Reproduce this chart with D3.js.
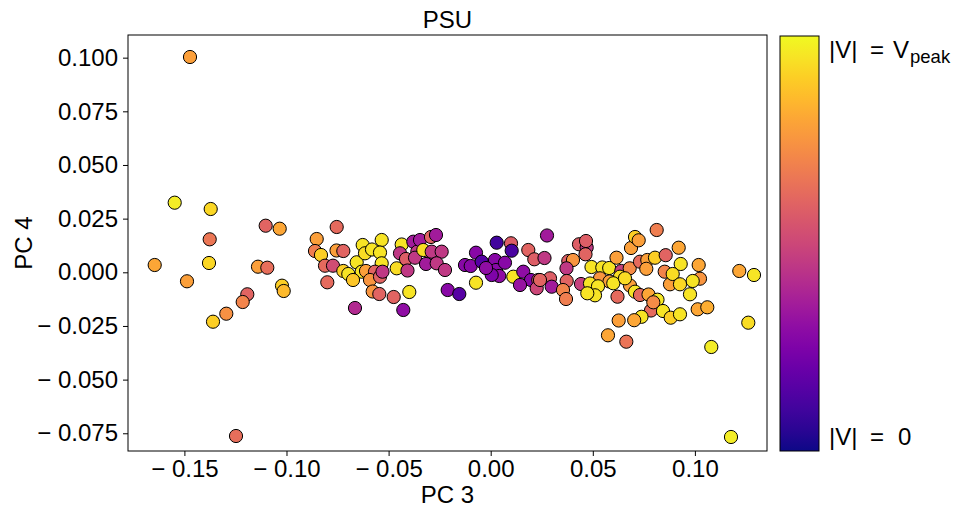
<!DOCTYPE html>
<html>
<head>
<meta charset="utf-8">
<script src="https://cdn.jsdelivr.net/npm/d3@7"></script>
<style>
  body { margin: 0; background: #fff; }
  text { font-family: "Liberation Sans", Arial, sans-serif; fill: #000; }
</style>
</head>
<body>
<script>
// PC 3 scores, PC 4 scores and normalised |V| for each sample
var pc3 = [-0.14726, -0.15475, -0.13712, -0.11019, -0.10333, -0.13761, -0.16454, -0.13795, -0.11396, -0.10940,
  -0.14873, -0.10220, -0.10137, -0.11920, -0.12145, -0.12948, -0.13599, -0.12473, -0.07542, -0.08521,
  -0.08604, -0.08311, -0.08115, -0.07723, -0.08002, -0.07551, -0.07218, -0.07218, -0.06974, -0.06646,
  -0.06562, -0.06268, -0.06156, -0.05813, -0.05338, -0.05421, -0.05338, -0.06317, -0.06107, -0.05666,
  -0.05911, -0.05421, -0.05299, -0.05779, -0.05455, -0.04750, -0.03986, -0.04280, -0.04603, -0.04358,
  -0.04442, -0.03790, -0.03595, -0.04148, -0.04074, -0.03707, -0.03462, -0.02973, -0.03168, -0.02924,
  -0.02679, -0.03301, -0.06743, -0.02889, -0.02400, -0.02644, -0.02238, -0.02106, -0.01538, -0.00720,
  -0.01259, -0.00979, -0.00441, -0.00720, 0.00211, 0.00294, 0.00260, 0.00700, 0.00421, 0.00994,
  0.01028, 0.01107, 0.01596, 0.01841, 0.02135, 0.01974, 0.02331, 0.02253, 0.02757, 0.02635,
  0.00049, 0.01435, -0.00230, 0.04324, 0.04701, 0.04643, 0.03800, 0.04030, 0.03712, 0.02904,
  0.02987, 0.02414, 0.03722, 0.03541, 0.03688, 0.04422, 0.04936, 0.05465, 0.05803, 0.06161,
  0.06396, 0.06807, 0.06871, 0.07067, 0.07248, 0.08129, 0.07311, 0.07669, 0.08046, 0.07620,
  0.08570, 0.08781, 0.06332, 0.05353, 0.05818, 0.04863, 0.05255, 0.05108, 0.04731, 0.06004,
  0.06822, 0.06577, 0.07067, 0.06210, 0.07311, 0.07728, 0.08169, 0.07850, 0.07385, 0.07027,
  0.06268, 0.08438, 0.08815, 0.09270, 0.05744, 0.06641, 0.09207, 0.09305, 0.10186, 0.08521,
  0.08913, 0.10250, 0.09892, 0.09270, 0.09760, 0.07963, 0.10137, 0.10607, 0.12174, 0.12894,
  0.12615, 0.10803, 0.11768, 0.04667];

var pc4 = [0.10031, 0.03243, 0.02949, 0.02171, 0.02031, 0.01537, 0.00340, 0.00433, 0.00261, 0.00214,
  -0.00419, -0.00624, -0.00871, -0.01025, -0.01384, -0.01929, -0.02302, -0.07627, 0.02111, 0.01551,
  0.00992, 0.00806, 0.00307, 0.00307, -0.00466, 0.01016, 0.00992, 0.00061, -0.00079, -0.01663,
  0.00466, 0.01272, 0.00885, 0.01062, 0.01505, 0.00922, 0.00419, 0.00028, 0.00061, 0.00028,
  -0.00359, -0.00205, 0.00028, -0.00895, -0.01011, -0.01151, -0.00918, -0.01756, 0.00186, 0.01295,
  0.00885, 0.01426, 0.00960, 0.00620, 0.00084, 0.00680, 0.01505, 0.00899, 0.00387, 0.01645,
  0.01738, 0.01039, -0.00359, 0.00960, 0.00960, 0.00419, 0.00107, -0.00825, -0.01011, 0.00913,
  0.00340, 0.00294, 0.00494, -0.00485, 0.00573, 0.01379, 0.00107, 0.00447, -0.00172, 0.01351,
  0.01006, -0.00205, 0.00028, 0.01039, 0.00606, -0.00359, -0.00359, -0.00745, 0.01715, 0.00666,
  -0.00126, -0.00592, 0.00200, 0.01305, 0.01155, 0.00839, 0.00526, 0.00573, 0.00186, -0.00280,
  -0.00671, -0.00359, -0.00405, -0.00825, -0.01244, -0.00545, 0.00247, 0.00224, 0.00200, 0.00680,
  0.00061, 0.00186, 0.01132, 0.01645, 0.01491, 0.01971, 0.00494, 0.00573, 0.00680, 0.00163,
  0.00797, -0.00559, -0.00205, -0.00280, -0.00429, -0.00522, -0.00652, -0.01072, -0.00978, -0.00512,
  -0.00615, -0.00280, -0.00904, -0.01137, -0.01058, -0.01034, -0.01277, -0.01780, -0.02073, -0.02232,
  -0.02246, -0.01803, -0.02115, -0.01957, -0.02935, -0.03233, 0.01146, 0.00387, 0.00340, 0.00028,
  -0.00079, -0.00298, -0.00405, -0.00559, -0.01025, -0.01398, -0.01724, -0.01631, 0.00061, -0.00126,
  -0.02348, -0.03480, -0.07673, 0.01458];

var vnorm = [0.78, 0.97, 0.92, 0.60, 0.80, 0.66, 0.80, 0.92, 0.78, 0.63,
  0.78, 0.90, 0.85, 0.60, 0.70, 0.74, 0.90, 0.63, 0.62, 0.78,
  0.68, 0.90, 0.62, 0.52, 0.62, 0.78, 0.60, 0.90, 0.95, 0.40,
  0.95, 0.95, 0.93, 0.95, 0.95, 0.95, 0.95, 0.95, 0.78, 0.60,
  0.75, 0.60, 0.45, 0.75, 0.60, 0.60, 0.95, 0.30, 0.93, 0.95,
  0.45, 0.35, 0.45, 0.58, 0.45, 0.45, 0.35, 0.45, 0.35, 0.60,
  0.35, 0.93, 0.88, 0.45, 0.45, 0.45, 0.45, 0.28, 0.15, 0.28,
  0.28, 0.28, 0.15, 0.95, 0.28, 0.10, 0.28, 0.28, 0.30, 0.58,
  0.12, 0.95, 0.30, 0.60, 0.58, 0.28, 0.60, 0.50, 0.35, 0.45,
  0.25, 0.32, 0.30, 0.58, 0.45, 0.60, 0.58, 0.75, 0.45, 0.58,
  0.35, 0.60, 0.60, 0.70, 0.68, 0.48, 0.95, 0.95, 0.95, 0.78,
  0.48, 0.72, 0.78, 0.90, 0.78, 0.68, 0.62, 0.78, 0.90, 0.78,
  0.60, 0.78, 0.93, 0.75, 0.78, 0.95, 0.95, 0.95, 0.95, 0.95,
  0.78, 0.93, 0.95, 0.62, 0.62, 0.80, 0.96, 0.62, 0.95, 0.80,
  0.78, 0.95, 0.90, 0.95, 0.80, 0.65, 0.80, 0.95, 0.80, 0.70,
  0.93, 0.75, 0.95, 0.92, 0.95, 0.72, 0.80, 0.82, 0.80, 0.95,
  0.93, 0.97, 0.97, 0.58];

var xTicks = [-0.15, -0.10, -0.05, 0.00, 0.05, 0.10];
var yTicks = [-0.075, -0.050, -0.025, 0.000, 0.025, 0.050, 0.075, 0.100];

var width = 962, height = 508;
// plot area edges (avoid the name "top", it is window.top)
var plotL = 128, plotR = 767, plotT = 35, plotB = 451;

var svg = d3.select("body").append("svg")
    .attr("width", width)
    .attr("height", height);

var x = d3.scaleLinear().domain([-0.17762, 0.13531]).range([plotL, plotR]);
var y = d3.scaleLinear().domain([-0.08326, 0.11056]).range([plotB, plotT]);
var color = d3.interpolatePlasma;

// matplotlib style minus sign with a gap
function fmt(d, n) {
    var s = Math.abs(d).toFixed(n);
    return d < 0 ? "\u2212 " + s : s;
}

var points = pc3.map(function(v, i) { return {x: v, y: pc4[i], c: vnorm[i]}; });

svg.append("g").selectAll("circle")
    .data(points)
    .enter().append("circle")
    .attr("cx", function(d) { return x(d.x); })
    .attr("cy", function(d) { return y(d.y); })
    .attr("r", 6.6)
    .style("fill", function(d) { return color(d.c); })
    .style("stroke", "#000")
    .style("stroke-width", 1);

// frame
svg.append("rect")
    .attr("x", plotL).attr("y", plotT)
    .attr("width", plotR - plotL).attr("height", plotB - plotT)
    .style("fill", "none").style("stroke", "#000").style("stroke-width", 1);

var xAxis = svg.append("g")
    .attr("transform", "translate(0," + plotB + ")")
    .call(d3.axisBottom(x).tickValues(xTicks).tickSize(5).tickPadding(4)
        .tickFormat(function(d) { return fmt(d, 2); }));
var yAxis = svg.append("g")
    .attr("transform", "translate(" + plotL + ",0)")
    .call(d3.axisLeft(y).tickValues(yTicks).tickSize(5).tickPadding(5)
        .tickFormat(function(d) { return fmt(d, 3); }));
[xAxis, yAxis].forEach(function(a) {
    a.select(".domain").remove();
    a.selectAll("line").style("stroke", "#000");
    a.selectAll("text").style("font-size", "24px")
        .style("font-family", "'Liberation Sans', Arial, sans-serif")
        .attr("xml:space", "preserve");
});

svg.append("text")
    .attr("x", (plotL + plotR) / 2).attr("y", 28)
    .attr("text-anchor", "middle").style("font-size", "24px")
    .text("PSU");
svg.append("text")
    .attr("x", (plotL + plotR) / 2).attr("y", 503)
    .attr("text-anchor", "middle").style("font-size", "24px")
    .text("PC 3");
svg.append("text")
    .attr("transform", "translate(32," + ((plotT + plotB) / 2) + ") rotate(-90)")
    .attr("text-anchor", "middle").style("font-size", "24px")
    .text("PC 4");

// colorbar
var cbX = 780, cbW = 39;
var grad = svg.append("defs").append("linearGradient")
    .attr("id", "plasma").attr("x1", 0).attr("y1", 1).attr("x2", 0).attr("y2", 0);
grad.selectAll("stop")
    .data(d3.range(0, 1.0001, 0.05))
    .enter().append("stop")
    .attr("offset", function(d) { return d; })
    .attr("stop-color", function(d) { return color(d); });
svg.append("rect")
    .attr("x", cbX).attr("y", plotT + 1)
    .attr("width", cbW).attr("height", plotB - plotT - 1)
    .style("fill", "url(#plasma)").style("stroke", "#000").style("stroke-width", 1);

// colorbar end labels, placed piece by piece like mathtext
function cbLabel(yBase, last, lastX, sub) {
    var g = svg.append("g").style("font-size", "24px");
    g.append("text").attr("x", 829).attr("y", yBase).text("|V|");
    g.append("text").attr("x", 870).attr("y", yBase).text("=");
    var t = g.append("text").attr("x", lastX).attr("y", yBase);
    t.append("tspan").text(last);
    if (sub) t.append("tspan").attr("dx", 1).attr("dy", 5).style("font-size", "18.5px").text(sub);
}
cbLabel(58, "V", 893, "peak");
cbLabel(445, "0", 898, null);
</script>
</body>
</html>
